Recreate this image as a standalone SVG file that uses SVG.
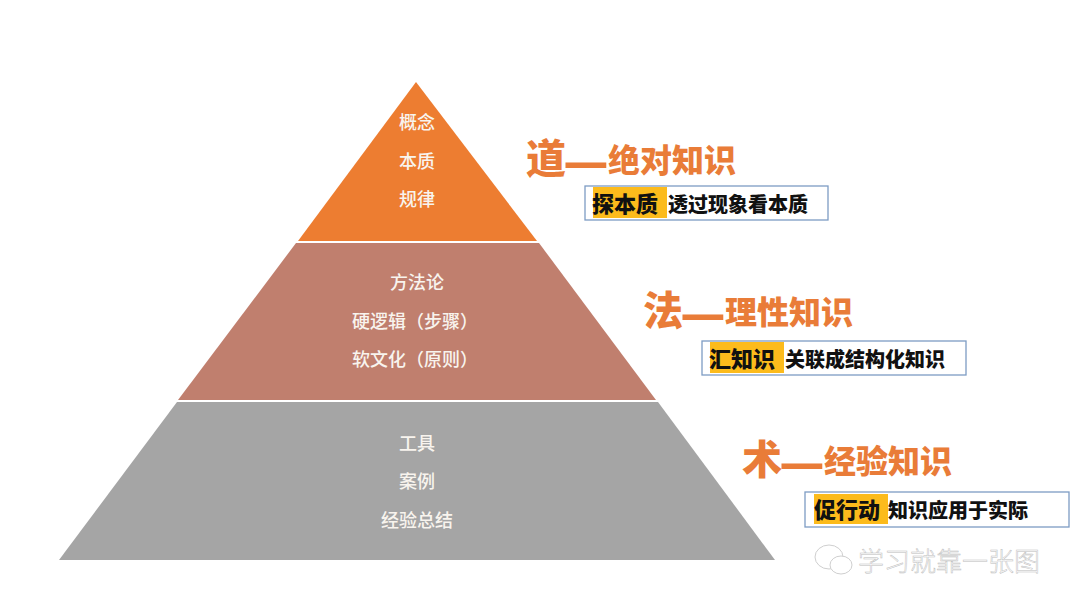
<svg xmlns="http://www.w3.org/2000/svg" width="1080" height="608" viewBox="0 0 1080 608">
<style>
text{font-family:"Noto Sans CJK SC","Liberation Sans",sans-serif}
.w{fill:#f8f4ee;font-size:18px;text-anchor:middle;font-weight:500}
.p{font-family:"Noto Sans CJK TC",sans-serif}
.t{fill:#e97c38;font-weight:900;font-size:32px}
.t1{font-size:40px}
.d{font-size:50px}
.box{fill:#fff;stroke:#7d9cc4;stroke-width:1.3}
.hl{fill:#fcbb1c}
.k{fill:#111;font-weight:900;font-size:20px}
.k1{font-size:22px}
</style>
<rect width="1080" height="608" fill="#fff"/>
<g id="tier-dao">
<polygon points="416,82 537,241 298,241" fill="#ed7d31"/>
<text class="w" x="417" y="129">概念</text>
<text class="w" x="417" y="168">本质</text>
<text class="w" x="417" y="206">规律</text>
</g>
<g id="tier-fa">
<polygon points="296,243 539,243 656,400 178,400" fill="#c07f6e"/>
<text class="w" x="417" y="289">方法论</text>
<text class="w" x="415" y="328">硬逻辑<tspan class="p">（</tspan>步骤<tspan class="p">）</tspan></text>
<text class="w" x="415" y="366">软文化<tspan class="p">（</tspan>原则<tspan class="p">）</tspan></text>
</g>
<g id="tier-shu">
<polygon points="177,402 658,402 775,560 59,560" fill="#a5a5a5"/>
<text class="w" x="417" y="450">工具</text>
<text class="w" x="417" y="488">案例</text>
<text class="w" x="417" y="527">经验总结</text>
</g>
<g id="label-dao">
<text class="t" x="526" y="173"><tspan class="t1">道</tspan><tspan class="d" x="563" y="180">—</tspan><tspan x="608" y="172">绝对知识</tspan></text>
<rect class="box" x="585" y="186" width="243" height="34"/>
<rect class="hl" x="593" y="187" width="74" height="31"/>
<text class="k k1" x="592" y="212">探本质</text>
<text class="k" x="668" y="212">透过现象看本质</text>
</g>
<g id="label-fa">
<text class="t" x="643" y="325"><tspan class="t1">法</tspan><tspan class="d" x="680" y="332">—</tspan><tspan x="725" y="324">理性知识</tspan></text>
<rect class="box" x="702" y="341" width="264" height="34"/>
<rect class="hl" x="710" y="342" width="74" height="31"/>
<text class="k k1" x="709" y="367">汇知识</text>
<text class="k" x="785" y="367">关联成结构化知识</text>
</g>
<g id="label-shu">
<text class="t" x="742" y="474"><tspan class="t1">术</tspan><tspan class="d" x="779" y="481">—</tspan><tspan x="824" y="473">经验知识</tspan></text>
<rect class="box" x="805" y="492" width="264" height="35"/>
<rect class="hl" x="814" y="494" width="74" height="30"/>
<text class="k k1" x="814" y="518">促行动</text>
<text class="k" x="888" y="518">知识应用于实际</text>
</g>
<g id="watermark">
<ellipse cx="829" cy="557" rx="14" ry="12" fill="#fff" stroke="#cfcfcf" stroke-width="1"/>
<ellipse cx="841" cy="565" rx="11" ry="9" fill="#fff" stroke="#cfcfcf" stroke-width="1"/>
<text x="858" y="571" font-size="26" font-weight="300" fill="#fff" stroke="#bdbdbd" stroke-width=".5">学习就靠一张图</text>
</g>
</svg>
